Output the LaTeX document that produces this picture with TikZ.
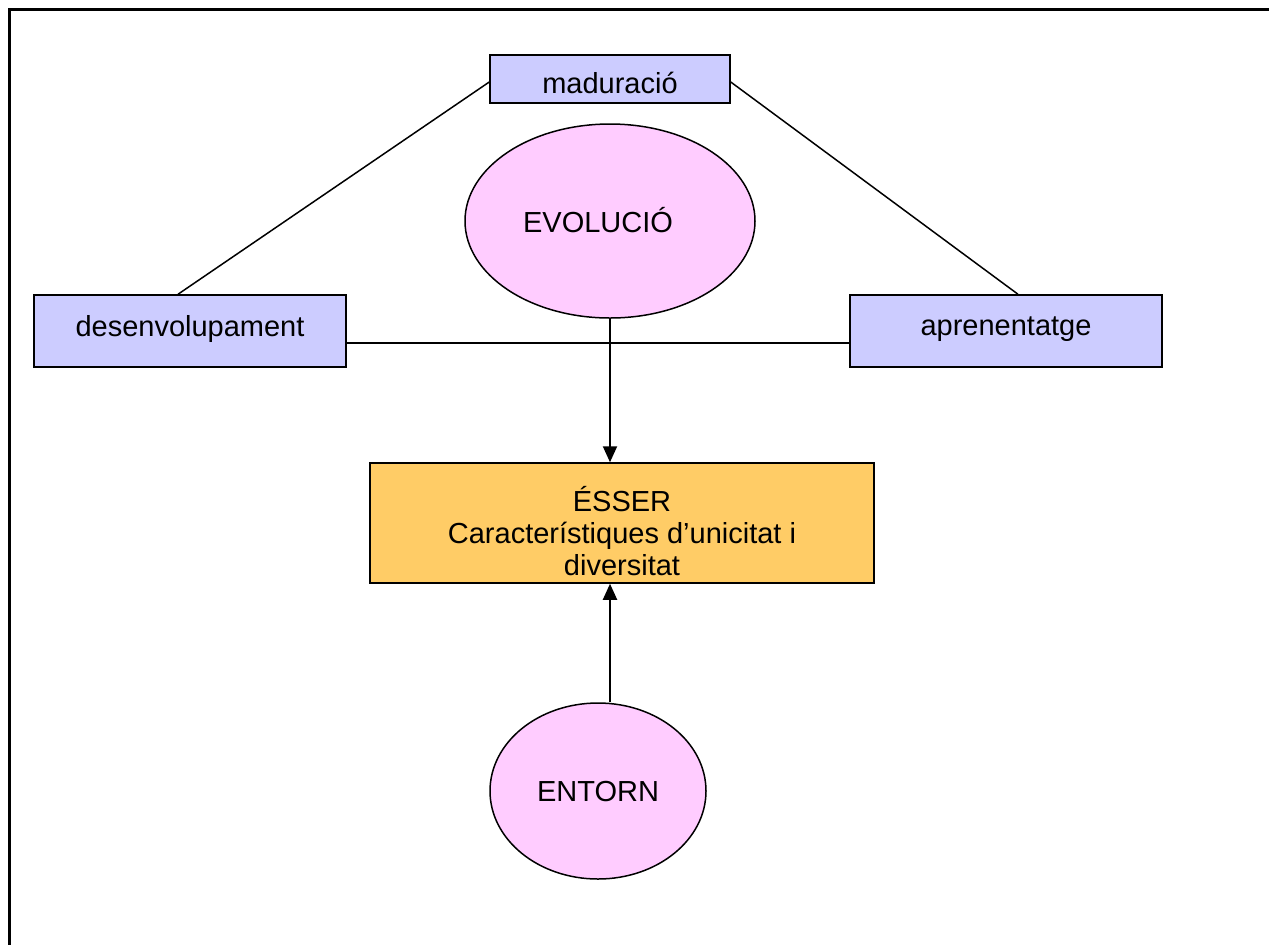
\documentclass[tikz,border=0pt]{standalone}
\usepackage{fontspec}
\setmainfont{Liberation Sans}
\usetikzlibrary{shapes.geometric,arrows.meta}
\definecolor{lav}{HTML}{CCCCFF}
\definecolor{pinkfill}{HTML}{FFCCFF}
\definecolor{orangefill}{HTML}{FFCC66}
\begin{document}
\begin{tikzpicture}[x=0.5pt,y=-0.5pt,
  font=\fontsize{14.5pt}{16pt}\selectfont,
  box/.style={draw,line width=0.75pt,inner sep=0pt,align=center},
  oval/.style={ellipse,draw,line width=0.75pt,fill=pinkfill,inner sep=0pt},
  link/.style={line width=0.75pt},
  flow/.style={line width=1pt,-{Triangle[width=7pt,length=8pt]}}]
\useasboundingbox (0,0) rectangle (1269,944);
% page frame
\draw[line width=1.25pt] (1300,9.5) -- (9.5,9.5) -- (9.5,980);
% nodes
\node[box,fill=lav,minimum width=120pt,minimum height=24pt] (mad) at (610,79) {};
\node (madt) at (610,83) {maduració};
\node[box,fill=lav,minimum width=156pt,minimum height=36pt] (des) at (190,331) {};
\node (dest) at (190,329) {desenvolupament};
\node[box,fill=lav,minimum width=156pt,minimum height=36pt] (apr) at (1006,331) {};
\node (aprt) at (1006,329) {aprenentatge};
\node[oval,minimum width=145pt,minimum height=97pt] (evo) at (610,221) {};
\node (evot) at (598,220) {EVOLUCIÓ};
\node[box,fill=orangefill,minimum width=252pt,minimum height=60pt] (ess) at (622,523) {};
\node[align=center,font=\fontsize{14.5pt}{15.8pt}\selectfont] (esst) at (622,531) {ÉSSER\\Característiques d’unicitat i\\diversitat};
\node[oval,minimum width=108pt,minimum height=88pt] (ent) at (598,791) {};
\node (entt) at (598,792) {ENTORN};
% connectors
\draw[link] ([yshift=-1.5pt]mad.west) -- ([xshift=-6pt]des.north);
\draw[link] ([yshift=-1.5pt]mad.east) -- ([xshift=6pt]apr.north);
\draw[link] ([yshift=-6pt]des.east) -- ([yshift=-6pt]apr.west);
\draw[flow] (evo.south) -- (evo.south |- ess.north);
\draw[flow] (ent.north -| evo.south) -- (evo.south |- ess.south);
\end{tikzpicture}
\end{document}
